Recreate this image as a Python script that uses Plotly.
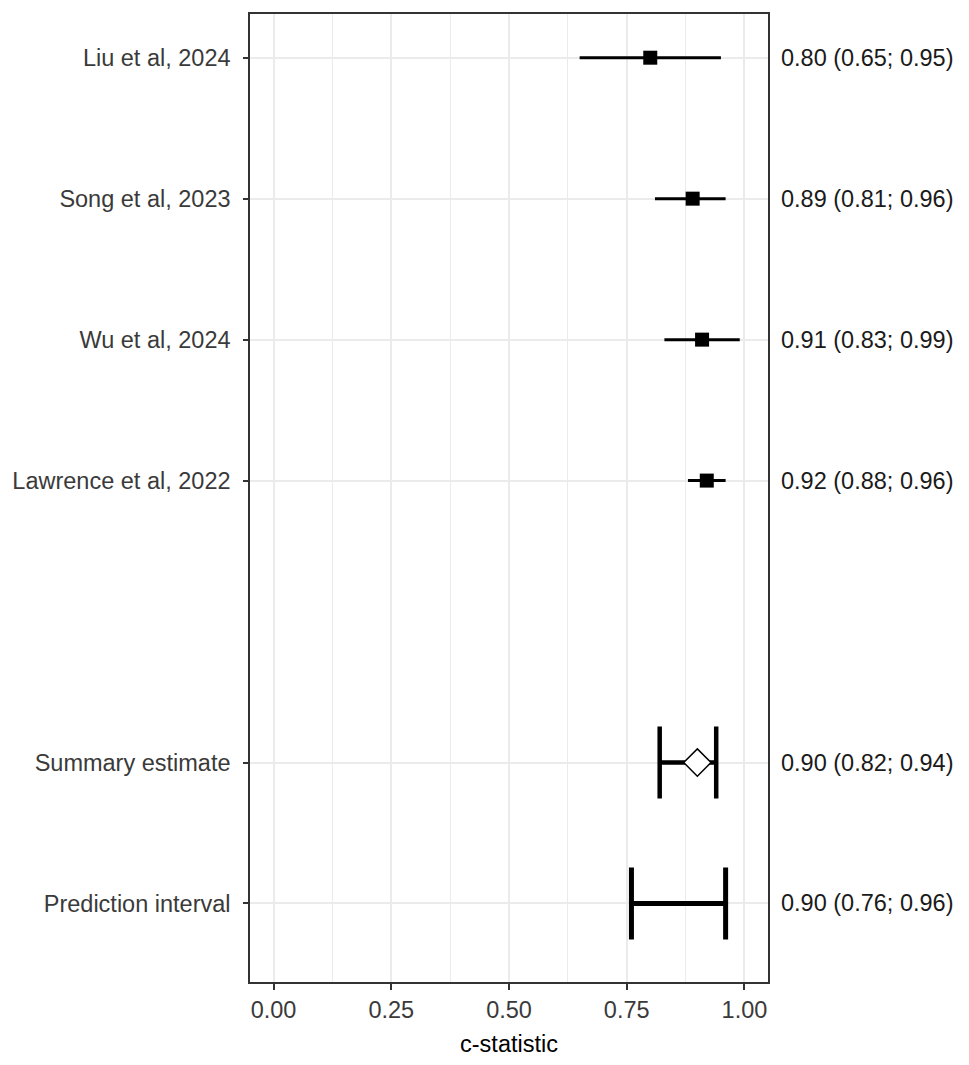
import plotly.graph_objects as go

# study rows, top to bottom
studies = ['Liu et al, 2024', 'Song et al, 2023', 'Wu et al, 2024', 'Lawrence et al, 2022']
study_pos = [0, 1, 2, 3]
study_est = [0.80, 0.89, 0.91, 0.92]
study_lo = [0.65, 0.81, 0.83, 0.88]
study_hi = [0.95, 0.96, 0.99, 0.96]

# pooled rows
summary_label = 'Summary estimate'
summary_pos = 5
summary_est = 0.90
summary_lo = 0.82
summary_hi = 0.94

pred_label = 'Prediction interval'
pred_pos = 6
pred_est = 0.90
pred_lo = 0.76
pred_hi = 0.96

x_ticks = [0.0, 0.25, 0.5, 0.75, 1.0]
x_ticktext = ['0.00', '0.25', '0.50', '0.75', '1.00']
null_value = 0.5

FONT = 'Liberation Sans, Arial, Helvetica, sans-serif'
GRID = '#EBEBEB'
FRAME = '#333333'


def fmt(est, lo, hi):
    return '%.2f (%.2f; %.2f)' % (est, lo, hi)


fig = go.Figure()

# individual studies: CI line + square
fig.add_trace(go.Scatter(
    x=study_est, y=study_pos, mode='markers',
    marker=dict(symbol='square', size=14, color='black'),
    error_x=dict(type='data', symmetric=False,
                 array=[h - e for h, e in zip(study_hi, study_est)],
                 arrayminus=[e - l for e, l in zip(study_est, study_lo)],
                 thickness=3, width=0, color='black'),
    showlegend=False, hoverinfo='skip'))

# summary estimate: capped interval + open diamond
fig.add_trace(go.Scatter(
    x=[summary_est], y=[summary_pos], mode='markers',
    marker=dict(symbol='diamond', size=21, color='white',
                line=dict(color='black', width=1.5)),
    error_x=dict(type='data', symmetric=False,
                 array=[summary_hi - summary_est],
                 arrayminus=[summary_est - summary_lo],
                 thickness=4.5, width=36, color='black'),
    showlegend=False, hoverinfo='skip'))

# prediction interval: capped interval only
fig.add_trace(go.Scatter(
    x=[pred_est], y=[pred_pos], mode='markers',
    marker=dict(size=1, color='rgba(0,0,0,0)'),
    error_x=dict(type='data', symmetric=False,
                 array=[pred_hi - pred_est],
                 arrayminus=[pred_est - pred_lo],
                 thickness=5, width=36, color='black'),
    showlegend=False, hoverinfo='skip'))

# dotted reference line
fig.add_vline(x=null_value, line=dict(color='#333333', width=2, dash='dot'), layer='below')

# right-hand estimate text
all_pos = study_pos + [summary_pos, pred_pos]
all_txt = [fmt(e, l, h) for e, l, h in zip(study_est, study_lo, study_hi)]
all_txt += [fmt(summary_est, summary_lo, summary_hi), fmt(pred_est, pred_lo, pred_hi)]
for p, t in zip(all_pos, all_txt):
    fig.add_annotation(x=1.0, xref='paper', y=p, yref='y', text=t,
                       showarrow=False, xanchor='left', xshift=11,
                       font=dict(family=FONT, size=23.5, color='#1A1A1A'))

fig.update_xaxes(
    range=[-0.05, 1.05], tickvals=x_ticks, ticktext=x_ticktext,
    showgrid=True, gridcolor=GRID, gridwidth=1.5,
    minor=dict(dtick=0.125, tick0=0, showgrid=True, gridcolor=GRID, gridwidth=0.8, ticks=''),
    zeroline=False, showline=True, mirror=True, linecolor=FRAME, linewidth=1.5,
    ticks='outside', ticklen=6, tickwidth=1.5, tickcolor=FRAME,
    ticklabelstandoff=0,
    tickfont=dict(family=FONT, size=23.5, color='#3A3A3A'),
    title=dict(text='c-statistic', standoff=14,
               font=dict(family=FONT, size=23.5, color='black')))

fig.update_yaxes(
    range=[6.557, -0.31], tickvals=all_pos, ticktext=studies + [summary_label, pred_label],
    showgrid=True, gridcolor=GRID, gridwidth=1.5,
    zeroline=False, showline=True, mirror=True, linecolor=FRAME, linewidth=1.5,
    ticks='outside', ticklen=5, tickwidth=1.5, tickcolor=FRAME,
    ticklabelstandoff=8,
    tickfont=dict(family=FONT, size=23.5, color='#3A3A3A'))

# page body adds 8px around the figure, so the figure is a bit smaller
fig.update_layout(
    width=953, height=1049,
    margin=dict(l=242, r=193, t=4, b=58),
    plot_bgcolor='white', paper_bgcolor='white')

fig.write_html('out.html')
